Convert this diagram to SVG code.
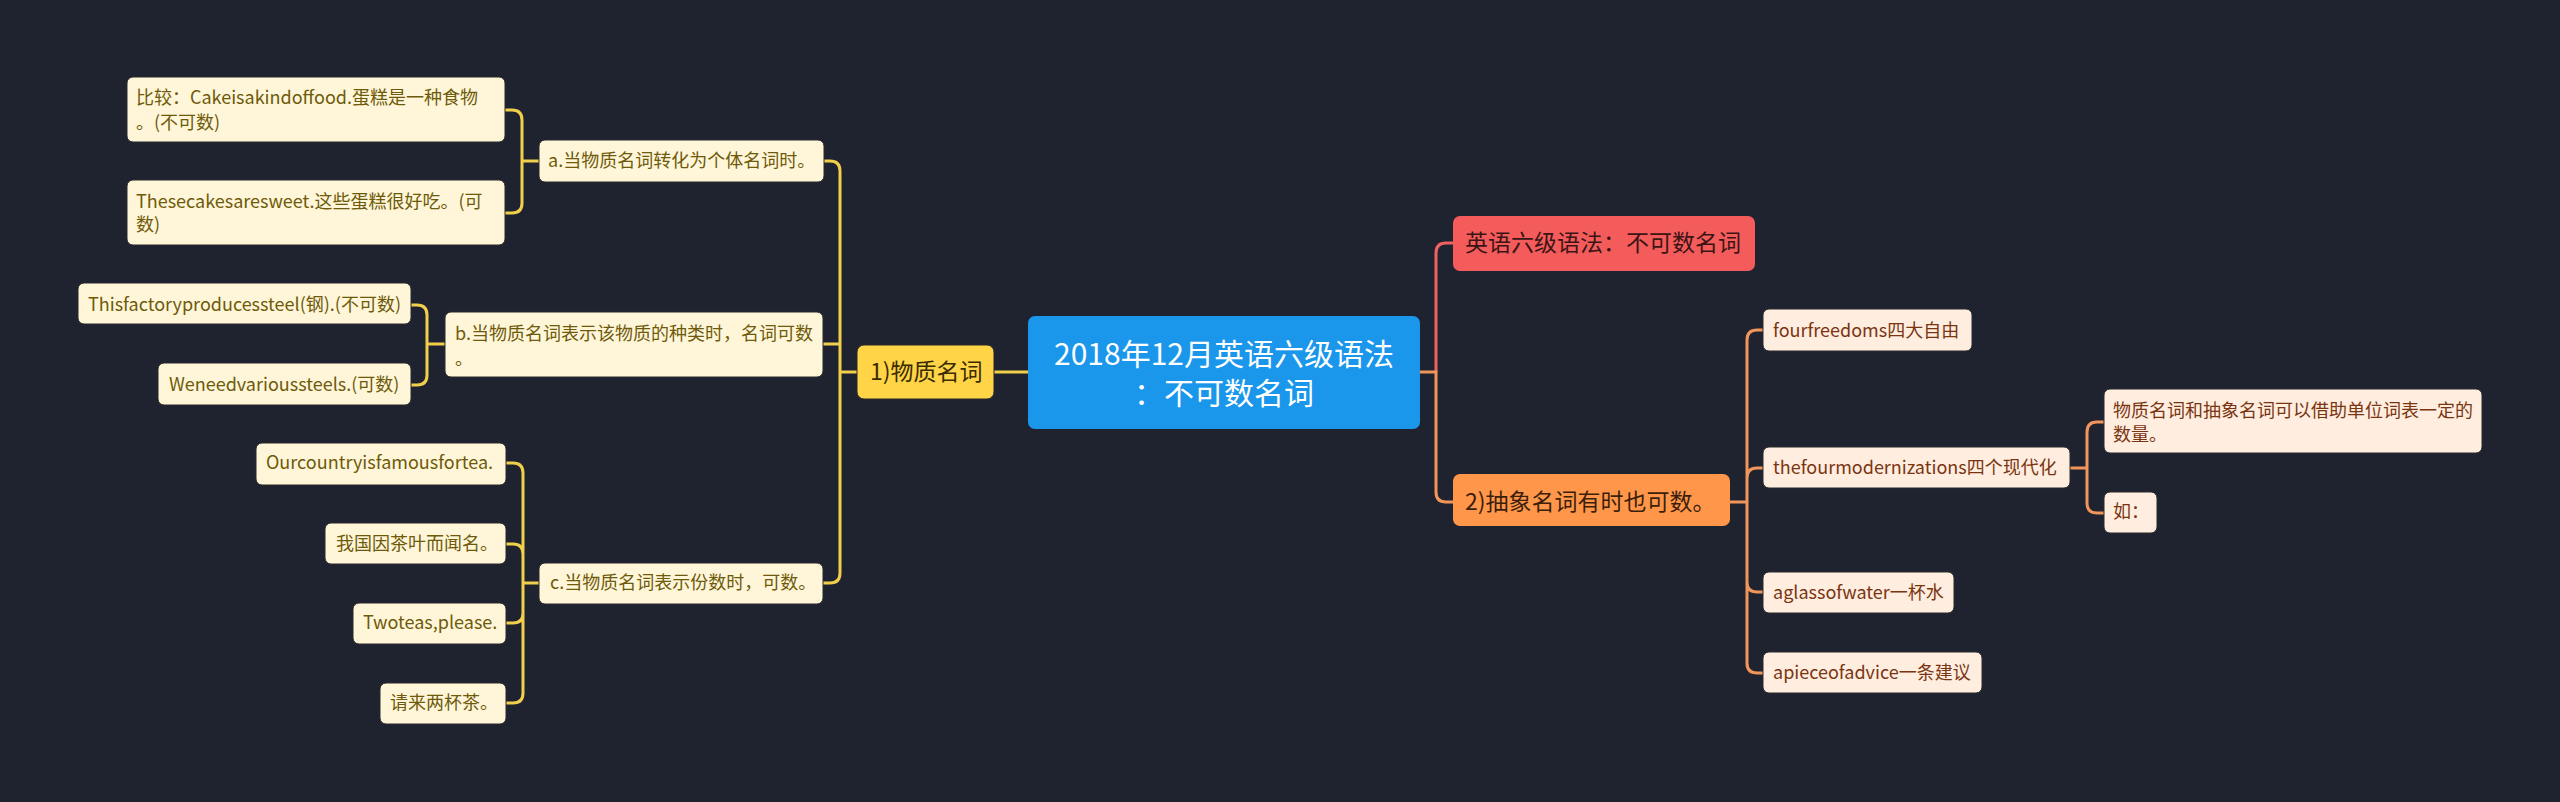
<svg xmlns="http://www.w3.org/2000/svg" width="2560" height="802" viewBox="0 0 2560 802">
<style>
text{font-family:"Noto Sans CJK SC","Microsoft YaHei",sans-serif}
.ly{fill:#FFF6D9;stroke:#2a2a2a;stroke-width:1}
.ty{fill:#6e5a0a;font-size:18px}
.lp{fill:#FFEDE0;stroke:#2a2a2a;stroke-width:1}
.tp{fill:#7a3510;font-size:18px}
.cy{fill:none;stroke:#F2CF4A;stroke-width:3}
.co{fill:none;stroke:#F2955A;stroke-width:3}
.cr{fill:none;stroke:#EE6262;stroke-width:3}
.tm{font-size:23px}
</style>
<rect width="2560" height="802" fill="#1F2330"/>
<g id="connectors">
<path class="cy" d="M1028,372 H994"/>
<path class="cy" d="M824,161 H830 Q840,161 840,171 V573 Q840,583 830,583 H823 M823,344 H840 M857,372 H840"/>
<path class="cy" d="M539,161 H522 M505,110 H512 Q522,110 522,120 V203 Q522,213 512,213 H505"/>
<path class="cy" d="M445,344 H427 M411,305 H417 Q427,305 427,315 V375 Q427,385 417,385 H411"/>
<path class="cy" d="M539,583 H523 M506,463 H513 Q523,463 523,473 V693 Q523,703 513,703 H506 M506,544 H513 Q523,544 523,554 M506,623 H513 Q523,623 523,613"/>
<path class="cr" d="M1436,372 V253 Q1436,243 1446,243 H1453"/>
<path class="co" d="M1420,372 H1436 V492 Q1436,502 1446,502 H1453"/>
<path class="co" d="M1730,502 H1747 M1763,330 H1757 Q1747,330 1747,340 V663 Q1747,673 1757,673 H1763 M1763,468 H1757 Q1747,468 1747,478 M1763,592 H1757 Q1747,592 1747,582"/>
<path class="co" d="M2070,468 H2087 M2104,422 H2097 Q2087,422 2087,432 V503 Q2087,513 2097,513 H2104"/>
</g>
<g id="root">
<rect x="1028" y="316" width="392" height="113" rx="7" fill="#1A96EB"/>
<text x="1224" y="365" font-size="30" fill="#FFFFFF" text-anchor="middle">2018年12月英语六级语法</text>
<text x="1224" y="404" font-size="30" fill="#FFFFFF" text-anchor="middle">：不可数名词</text>
</g>
<g id="n1">
<rect x="857" y="345" width="137" height="54" rx="7" fill="#FFD447" stroke="#2a2a2a" stroke-width="1"/>
<text x="870" y="380" class="tm" fill="#3a2c00">1)物质名词</text>
</g>
<g id="na">
<rect class="ly" x="539" y="140" width="285" height="42" rx="6"/>
<text class="ty" x="548" y="167">a.当物质名词转化为个体名词时。</text>
</g>
<g id="na1">
<rect class="ly" x="127" y="77" width="378" height="65" rx="6"/>
<text class="ty" x="136" y="104">比较：Cakeisakindoffood.蛋糕是一种食物</text>
<text class="ty" x="136" y="129">。(不可数)</text>
</g>
<g id="na2">
<rect class="ly" x="127" y="180" width="378" height="65" rx="6"/>
<text class="ty" x="136" y="208">Thesecakesaresweet.这些蛋糕很好吃。(可</text>
<text class="ty" x="136" y="231">数)</text>
</g>
<g id="nb">
<rect class="ly" x="445" y="312" width="378" height="65" rx="6"/>
<text class="ty" x="455" y="340">b.当物质名词表示该物质的种类时，名词可数</text>
<text class="ty" x="455" y="365">。</text>
</g>
<g id="nb1">
<rect class="ly" x="78" y="283" width="333" height="41" rx="6"/>
<text class="ty" x="88" y="311">Thisfactoryproducessteel(钢).(不可数)</text>
</g>
<g id="nb2">
<rect class="ly" x="158" y="363" width="253" height="42" rx="6"/>
<text class="ty" x="169" y="391">Weneedvarioussteels.(可数)</text>
</g>
<g id="nc">
<rect class="ly" x="539" y="563" width="284" height="41" rx="6"/>
<text class="ty" x="550" y="589">c.当物质名词表示份数时，可数。</text>
</g>
<g id="nc1">
<rect class="ly" x="256" y="443" width="250" height="42" rx="6"/>
<text class="ty" x="266" y="469">Ourcountryisfamousfortea.</text>
</g>
<g id="nc2">
<rect class="ly" x="325" y="523" width="181" height="41" rx="6"/>
<text class="ty" x="336" y="550">我国因茶叶而闻名。</text>
</g>
<g id="nc3">
<rect class="ly" x="353" y="603" width="153" height="41" rx="6"/>
<text class="ty" x="363" y="629">Twoteas,please.</text>
</g>
<g id="nc4">
<rect class="ly" x="380" y="683" width="126" height="41" rx="6"/>
<text class="ty" x="390" y="709">请来两杯茶。</text>
</g>
<g id="nred">
<rect x="1453" y="216" width="302" height="55" rx="7" fill="#F45B5B"/>
<text x="1465" y="251" class="tm" fill="#3b1515">英语六级语法：不可数名词</text>
</g>
<g id="n2">
<rect x="1453" y="474" width="277" height="52" rx="7" fill="#FF9649"/>
<text x="1465" y="510" class="tm" fill="#3b1f0c">2)抽象名词有时也可数。</text>
</g>
<g id="n21">
<rect class="lp" x="1763" y="309" width="209" height="42" rx="6"/>
<text class="tp" x="1773" y="337">fourfreedoms四大自由</text>
</g>
<g id="n22">
<rect class="lp" x="1763" y="447" width="307" height="41" rx="6"/>
<text class="tp" x="1773" y="474">thefourmodernizations四个现代化</text>
</g>
<g id="n221">
<rect class="lp" x="2104" y="389" width="378" height="64" rx="6"/>
<text class="tp" x="2113" y="417">物质名词和抽象名词可以借助单位词表一定的</text>
<text class="tp" x="2113" y="441">数量。</text>
</g>
<g id="n222">
<rect class="lp" x="2104" y="492" width="53" height="41" rx="6"/>
<text class="tp" x="2113" y="518">如：</text>
</g>
<g id="n23">
<rect class="lp" x="1763" y="572" width="191" height="41" rx="6"/>
<text class="tp" x="1773" y="599">aglassofwater一杯水</text>
</g>
<g id="n24">
<rect class="lp" x="1763" y="652" width="219" height="41" rx="6"/>
<text class="tp" x="1773" y="679">apieceofadvice一条建议</text>
</g>
</svg>
